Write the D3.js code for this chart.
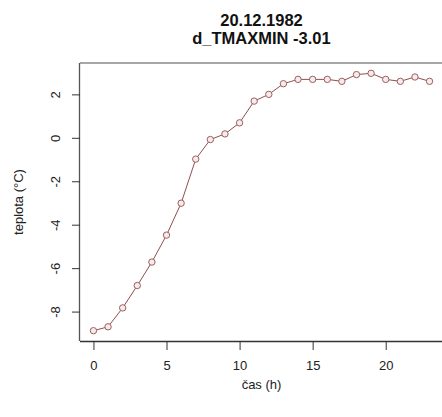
<!DOCTYPE html>
<html><head><meta charset="utf-8">
<script src="https://cdn.jsdelivr.net/npm/d3@7"></script>
<style>body{margin:0;background:#fff}svg{display:block}text{font-family:"Liberation Sans",Arial,sans-serif}</style>
</head><body>
<svg id="c" width="442" height="417"></svg>
<script>
const hours = [0,1,2,3,4,5,6,7,8,9,10,11,12,13,14,15,16,17,18,19,20,21,22,23];
const temps = [-8.88,-8.7,-7.83,-6.8,-5.72,-4.48,-3.01,-0.98,-0.08,0.18,0.69,1.69,2.0,2.49,2.69,2.69,2.69,2.6,2.91,2.97,2.69,2.6,2.8,2.6];
const xTicks = [0,5,10,15,20];
const yTicks = [-8,-6,-4,-2,0,2];
const titleLines = ["20.12.1982","d_TMAXMIN -3.01"];
const xLabel = "čas (h)";
const yLabel = "teplota (°C)";

const svg = d3.select("#c");
const L=80, R=443, T=63, B=341;
function pad(ext){const d=(ext[1]-ext[0])*0.04;return [ext[0]-d,ext[1]+d];}
const x = d3.scaleLinear().domain(pad(d3.extent(hours))).range([L,R]);
const y = d3.scaleLinear().domain(pad(d3.extent(temps))).range([B,T]);
const fmt = v => String(v);

// box
svg.append("line").attr("x1",L).attr("x2",R).attr("y1",T).attr("y2",T).attr("stroke","#8a8a8a").attr("stroke-width",1.6);
svg.append("line").attr("x1",R).attr("x2",R).attr("y1",T).attr("y2",B).attr("stroke","#555");

// axes
const xa = svg.append("g").attr("transform",`translate(0,${B})`)
  .call(d3.axisBottom(x).tickValues(xTicks).tickFormat(fmt).tickSize(9).tickPadding(11).tickSizeOuter(0));
xa.select(".domain").attr("d",`M${L},0.5H${R}`).attr("stroke","#333").attr("stroke-width",1.3);
xa.selectAll(".tick line").attr("stroke","#333");
xa.selectAll("text").attr("font-size",13).attr("fill","#222").attr("font-family","Liberation Sans, Arial");

const ya = svg.append("g").attr("transform",`translate(${L},0)`)
  .call(d3.axisLeft(y).tickValues(yTicks).tickFormat(fmt).tickSize(8).tickSizeOuter(0));
ya.select(".domain").attr("d",`M-0.5,${T}V${B}`).attr("stroke","#555").attr("stroke-width",1.3);
ya.selectAll(".tick line").attr("stroke","#333");
ya.selectAll(".tick text").attr("font-size",13).attr("fill","#222").attr("font-family","Liberation Sans, Arial")
  .attr("x",0).attr("dy",0).attr("text-anchor","middle")
  .attr("transform","translate(-25,0) rotate(-90)").attr("dominant-baseline","central");

// line + points
const pts = hours.map((h,i)=>[h,temps[i]]);
svg.append("path").datum(pts)
  .attr("d",d3.line().x(d=>x(d[0])).y(d=>y(d[1])))
  .attr("fill","none").attr("stroke","#8e4f4f").attr("stroke-width",1);
svg.append("g").selectAll("circle").data(pts).join("circle")
  .attr("cx",d=>x(d[0])).attr("cy",d=>y(d[1])).attr("r",3.2)
  .attr("fill","#f6eaea").attr("stroke","#9a6060").attr("stroke-width",1);

// titles
const cx=(L+R)/2;
svg.append("text").attr("x",cx).attr("y",26).attr("text-anchor","middle").attr("font-weight","bold").attr("font-size",16.5).attr("fill","#111").text(titleLines[0]);
svg.append("text").attr("x",cx).attr("y",44).attr("text-anchor","middle").attr("font-weight","bold").attr("font-size",16.5).attr("fill","#111").text(titleLines[1]);
svg.append("text").attr("x",cx).attr("y",389).attr("text-anchor","middle").attr("font-size",13).attr("fill","#222").text(xLabel);
svg.append("text").attr("transform",`translate(23,${(T+B)/2}) rotate(-90)`).attr("text-anchor","middle").attr("font-size",13).attr("fill","#222").text(yLabel);
</script>
</body></html>
